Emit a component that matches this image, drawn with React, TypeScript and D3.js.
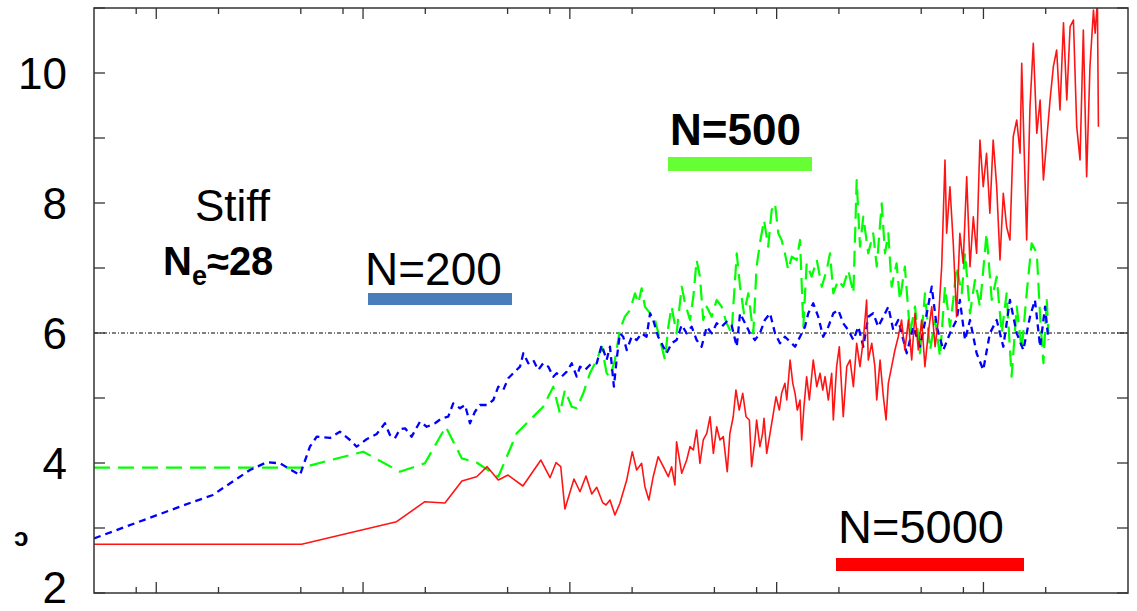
import * as d3 from "d3";

// x values are log10(time), y values are the plotted quantity
const redN5000: [number, number][] = [
  [-0.301, 2.75], [0.703, 2.75], [1.162, 3.097], [1.299, 3.405], [1.396, 3.385], [1.478, 3.723],
  [1.549, 3.789], [1.6, 3.943], [1.654, 3.738], [1.701, 3.815], [1.773, 3.646], [1.86, 4.046],
  [1.904, 3.774], [1.933, 4.005], [1.956, 3.943], [1.976, 3.292], [2.02, 3.754], [2.049, 3.558],
  [2.078, 3.8], [2.106, 3.523], [2.13, 3.626], [2.159, 3.389], [2.175, 3.354], [2.194, 3.431],
  [2.218, 3.2], [2.242, 3.38], [2.275, 3.738], [2.302, 4.174], [2.323, 3.892], [2.347, 3.995],
  [2.363, 3.635], [2.382, 3.431], [2.403, 3.789], [2.427, 4.097], [2.452, 3.943], [2.476, 3.789],
  [2.492, 3.943], [2.508, 3.662], [2.516, 4.328], [2.541, 3.842], [2.565, 4.046], [2.581, 4.251],
  [2.597, 4.2], [2.613, 4.508], [2.629, 3.995], [2.645, 4.354], [2.662, 4.457], [2.678, 4.712],
  [2.694, 4.149], [2.71, 4.558], [2.726, 4.354], [2.742, 4.405], [2.761, 3.866], [2.774, 4.457],
  [2.79, 4.712], [2.803, 5.123], [2.819, 4.815], [2.836, 5.072], [2.852, 4.712], [2.868, 4.662],
  [2.879, 3.943], [2.895, 4.354], [2.903, 4.662], [2.919, 4.251], [2.932, 4.457], [2.939, 4.688],
  [2.952, 4.149], [2.968, 4.457], [2.984, 4.765], [2.997, 5.02], [3.013, 4.815], [3.024, 5.072],
  [3.04, 5.226], [3.049, 4.969], [3.065, 5.585], [3.078, 5.226], [3.089, 5.072], [3.1, 4.815],
  [3.113, 4.969], [3.121, 4.354], [3.132, 4.866], [3.145, 5.328], [3.158, 4.969], [3.177, 5.585],
  [3.194, 5.174], [3.21, 5.38], [3.223, 5.123], [3.234, 5.328], [3.25, 4.969], [3.266, 5.38],
  [3.274, 4.662], [3.29, 5.482], [3.303, 5.789], [3.322, 4.712], [3.339, 5.482], [3.355, 5.585],
  [3.371, 5.174], [3.387, 5.842], [3.403, 5.482], [3.419, 5.892], [3.435, 6.508], [3.443, 5.585],
  [3.46, 5.842], [3.475, 5.482], [3.484, 4.969], [3.5, 5.585], [3.516, 5.02], [3.529, 4.662],
  [3.54, 5.226], [3.556, 5.482], [3.572, 5.738], [3.588, 5.943], [3.604, 6.2], [3.62, 5.738],
  [3.637, 6.2], [3.653, 5.585], [3.669, 6.303], [3.685, 5.738], [3.701, 6.2], [3.717, 5.482],
  [3.733, 5.995], [3.75, 6.405], [3.766, 5.789], [3.782, 6.2], [3.798, 7.02], [3.814, 8.662],
  [3.822, 7.534], [3.838, 8.251], [3.854, 7.38], [3.87, 6.251], [3.886, 7.534], [3.902, 7.072],
  [3.919, 8.405], [3.935, 7.02], [3.951, 7.789], [3.967, 7.226], [3.983, 8.969], [3.999, 8.251],
  [4.015, 8.765], [4.031, 7.842], [4.047, 8.969], [4.064, 8.251], [4.08, 7.123], [4.096, 8.149],
  [4.112, 7.635], [4.128, 7.431], [4.144, 9.02], [4.161, 9.277], [4.177, 8.765], [4.185, 10.149],
  [4.201, 8.354], [4.209, 7.431], [4.225, 9.482], [4.241, 10.457], [4.258, 9.072], [4.274, 9.585],
  [4.29, 8.354], [4.306, 8.969], [4.322, 9.585], [4.338, 10.097], [4.354, 10.354], [4.37, 9.431],
  [4.387, 10.774], [4.403, 9.585], [4.419, 10.712], [4.435, 10.815], [4.451, 9.174], [4.467, 8.662],
  [4.483, 10.662], [4.499, 8.405], [4.515, 10.097], [4.532, 10.969], [4.54, 10.611], [4.551, 11.1],
  [4.556, 9.174],
];

const blueN200: [number, number][] = [
  [-0.301, 2.84], [0.163, 3.385], [0.274, 3.508], [0.323, 3.615], [0.453, 3.892], [0.534, 4.011],
  [0.598, 3.995], [0.695, 3.815], [0.743, 4.251], [0.776, 4.405], [0.84, 4.385], [0.888, 4.482],
  [0.937, 4.354], [0.969, 4.251], [1.017, 4.365], [1.066, 4.446], [1.106, 4.611], [1.13, 4.431],
  [1.154, 4.38], [1.178, 4.518], [1.203, 4.534], [1.235, 4.405], [1.275, 4.635], [1.308, 4.558],
  [1.348, 4.611], [1.38, 4.688], [1.412, 4.712], [1.436, 4.918], [1.469, 4.842], [1.493, 4.892],
  [1.517, 4.611], [1.541, 4.789], [1.565, 4.892], [1.598, 4.892], [1.63, 4.969], [1.654, 5.174],
  [1.678, 5.123], [1.702, 5.303], [1.734, 5.405], [1.759, 5.482], [1.775, 5.688], [1.799, 5.534],
  [1.823, 5.585], [1.847, 5.431], [1.871, 5.534], [1.896, 5.482], [1.92, 5.328], [1.936, 5.38],
  [1.96, 5.328], [1.985, 5.405], [2.009, 5.534], [2.033, 5.328], [2.049, 5.482], [2.073, 5.431],
  [2.097, 5.508], [2.13, 5.534], [2.154, 5.815], [2.178, 5.585], [2.194, 5.789], [2.213, 5.174],
  [2.226, 5.585], [2.242, 5.995], [2.258, 5.943], [2.275, 5.738], [2.299, 5.943], [2.323, 5.892],
  [2.347, 5.995], [2.371, 5.943], [2.388, 6.303], [2.403, 6.2], [2.427, 5.943], [2.452, 5.789],
  [2.468, 5.688], [2.492, 5.842], [2.516, 5.892], [2.541, 6.123], [2.565, 5.995], [2.589, 6.097],
  [2.613, 5.892], [2.637, 5.789], [2.662, 6.097], [2.686, 5.995], [2.71, 6.149], [2.734, 6.097],
  [2.758, 6.174], [2.782, 6.123], [2.807, 5.789], [2.823, 6.303], [2.847, 6.149], [2.871, 5.995],
  [2.895, 5.892], [2.919, 5.995], [2.943, 6.2], [2.968, 6.303], [2.992, 5.995], [3.016, 5.842],
  [3.04, 5.943], [3.065, 5.866], [3.089, 5.789], [3.113, 5.943], [3.137, 6.097], [3.153, 6.303],
  [3.177, 6.457], [3.201, 6.251], [3.225, 5.943], [3.25, 6.097], [3.274, 6.303], [3.298, 6.354],
  [3.322, 6.149], [3.346, 6.046], [3.371, 5.892], [3.395, 6.097], [3.419, 5.789], [3.443, 6.251],
  [3.467, 6.303], [3.491, 6.097], [3.516, 6.251], [3.54, 6.405], [3.564, 6.046], [3.588, 6.2],
  [3.629, 5.688], [3.661, 6.097], [3.693, 5.789], [3.726, 6.303], [3.75, 6.712], [3.774, 6.097],
  [3.806, 5.738], [3.838, 5.995], [3.87, 6.2], [3.886, 6.508], [3.911, 5.892], [3.935, 6.2],
  [3.967, 5.688], [3.999, 5.431], [4.031, 5.995], [4.064, 6.2], [4.096, 5.789], [4.128, 6.508],
  [4.161, 5.995], [4.193, 5.738], [4.225, 6.251], [4.249, 6.508], [4.274, 5.789], [4.298, 6.405],
  [4.314, 5.892],
];

const greenN500: [number, number][] = [
  [-0.301, 3.928], [0.703, 3.928], [1.001, 4.174], [1.178, 3.866], [1.299, 3.995], [1.4, 4.558],
  [1.477, 4.072], [1.549, 4.008], [1.654, 3.789], [1.743, 4.457], [1.871, 4.866], [1.92, 5.174],
  [1.952, 4.765], [1.976, 5.123], [2.009, 4.866], [2.033, 4.842], [2.065, 5.072], [2.097, 5.38],
  [2.13, 5.585], [2.154, 5.789], [2.178, 5.38], [2.194, 5.328], [2.218, 5.585], [2.242, 6.046],
  [2.266, 6.251], [2.291, 6.354], [2.315, 6.611], [2.331, 6.457], [2.347, 6.688], [2.363, 6.405],
  [2.388, 6.303], [2.412, 6.2], [2.436, 5.892], [2.46, 5.585], [2.476, 6.097], [2.492, 6.405],
  [2.516, 5.995], [2.541, 6.712], [2.557, 6.457], [2.581, 6.2], [2.597, 6.558], [2.613, 7.123],
  [2.629, 6.866], [2.645, 6.2], [2.662, 6.405], [2.686, 6.251], [2.71, 6.508], [2.734, 6.405],
  [2.758, 6.149], [2.782, 5.995], [2.807, 7.226], [2.823, 6.712], [2.842, 6.303], [2.863, 6.611],
  [2.887, 5.995], [2.903, 7.02], [2.919, 7.38], [2.939, 7.738], [2.959, 7.328], [2.976, 7.892],
  [2.992, 7.995], [3.008, 7.534], [3.024, 7.431], [3.04, 7.226], [3.056, 6.969], [3.073, 7.174],
  [3.097, 7.123], [3.113, 7.431], [3.129, 6.097], [3.145, 7.072], [3.169, 6.866], [3.194, 7.123],
  [3.218, 6.712], [3.242, 6.969], [3.258, 7.226], [3.274, 6.611], [3.298, 6.815], [3.322, 6.712],
  [3.346, 6.969], [3.371, 6.611], [3.387, 8.354], [3.403, 7.328], [3.419, 7.789], [3.443, 7.226],
  [3.467, 7.534], [3.484, 7.02], [3.508, 7.995], [3.524, 7.226], [3.54, 7.534], [3.556, 6.712],
  [3.58, 7.072], [3.596, 6.508], [3.62, 7.02], [3.645, 5.995], [3.669, 6.405], [3.693, 5.688],
  [3.717, 6.611], [3.742, 5.738], [3.766, 6.2], [3.79, 5.635], [3.814, 6.712], [3.838, 6.097],
  [3.854, 6.508], [3.87, 7.02], [3.895, 6.611], [3.911, 7.226], [3.935, 6.303], [3.959, 6.815],
  [3.983, 6.405], [4.015, 7.534], [4.04, 6.508], [4.064, 6.866], [4.088, 5.995], [4.112, 6.611],
  [4.136, 5.328], [4.161, 6.405], [4.185, 5.738], [4.209, 6.611], [4.233, 7.38], [4.258, 7.226],
  [4.274, 6.251], [4.29, 5.534], [4.306, 6.508], [4.314, 5.995],
];

const xMajorTicks = [1, 10, 100, 1000, 10000];
const xMinorTicks = [0.8, 2, 5, 8, 20, 50, 80, 200, 500, 800, 2000, 5000, 8000, 20000];
const yTicks = [2, 3, 4, 5, 6, 7, 8, 9, 10, 11];
const yLabels = [2, 4, 6, 8, 10];
const plateau = 6;

const W = 1137;
const H = 611;
const left = 94, right = 1128, top = 8, bottom = 593;

const x = d3.scaleLog().domain([0.5, 50000]).range([left, right]);
const y = d3.scaleLinear().domain([2, 11]).range([bottom, top]);

const line = d3
  .line<[number, number]>()
  .x((d) => x(Math.pow(10, d[0])))
  .y((d) => y(d[1]));

const font = "'Liberation Sans', Arial, sans-serif";

export default function App() {
  return (
    <svg width={W} height={H} style={{ position: "absolute", left: 0, top: 0, background: "#fff" }}>
      <defs>
        <clipPath id="plot">
          <rect x={left} y={top} width={right - left} height={bottom - top} />
        </clipPath>
      </defs>

      {/* plateau reference */}
      <line x1={left} x2={right} y1={y(plateau)} y2={y(plateau)} stroke="#000" strokeWidth={1} strokeDasharray="4,2,1,2" />

      <g clipPath="url(#plot)" fill="none" strokeLinejoin="round">
        <path d={line(greenN500) ?? ""} stroke="#00ff00" strokeWidth={2.2} strokeDasharray="16,8" />
        <path d={line(blueN200) ?? ""} stroke="#0000ff" strokeWidth={2.3} strokeDasharray="7,5" />
        <path d={line(redN5000) ?? ""} stroke="#ff0000" strokeWidth={1.6} strokeOpacity={0.92} />
      </g>

      {/* frame */}
      <rect x={left} y={top} width={right - left} height={bottom - top} fill="none" stroke="#333" strokeWidth={1.5} />

      {xMajorTicks.map((t) => (
        <g key={"M" + t} stroke="#333" strokeWidth={1.3}>
          <line x1={x(t)} x2={x(t)} y1={bottom} y2={bottom - 11} />
          <line x1={x(t)} x2={x(t)} y1={top} y2={top + 11} />
        </g>
      ))}
      {xMinorTicks.map((t) => (
        <g key={"m" + t} stroke="#333" strokeWidth={1.3}>
          <line x1={x(t)} x2={x(t)} y1={bottom} y2={bottom - 6} />
          <line x1={x(t)} x2={x(t)} y1={top} y2={top + 6} />
        </g>
      ))}
      {yTicks.map((v) => (
        <g key={"y" + v} stroke="#333" strokeWidth={1.3}>
          <line x1={left} x2={left + 11} y1={y(v)} y2={y(v)} />
          <line x1={right} x2={right - 11} y1={y(v)} y2={y(v)} />
        </g>
      ))}
      {yLabels.map((v) => (
        <text key={"l" + v} x={67} y={Math.min(y(v) + 16, 603)} textAnchor="end" fontFamily={font} fontSize={44} fill="#000">
          {v}
        </text>
      ))}

      <text x={14} y={546} fontFamily={font} fontSize={26} fontWeight="bold" fill="#000">ɔ</text>

      {/* annotations */}
      <text x={195} y={221} fontFamily={font} fontSize={44} fill="#000">Stiff</text>
      <text x={163} y={275} fontFamily={font} fontSize={40} fontWeight="bold" fill="#000">
        N<tspan fontSize={27} dy={10}>e</tspan>
        <tspan dy={-10}>≈28</tspan>
      </text>

      <text x={365} y={285} fontFamily={font} fontSize={46} fill="#000">N=200</text>
      <rect x={368} y={293} width={144} height={12} fill="#4a7ebb" />

      <text x={670} y={145} fontFamily={font} fontSize={44} fontWeight="bold" fill="#000">N=500</text>
      <rect x={668} y={157} width={144} height={14} fill="#66ff33" />

      <text x={838} y={543} fontFamily={font} fontSize={47} fill="#000">N=5000</text>
      <rect x={836} y={558} width={188} height={13} fill="#ff0000" />
    </svg>
  );
}
